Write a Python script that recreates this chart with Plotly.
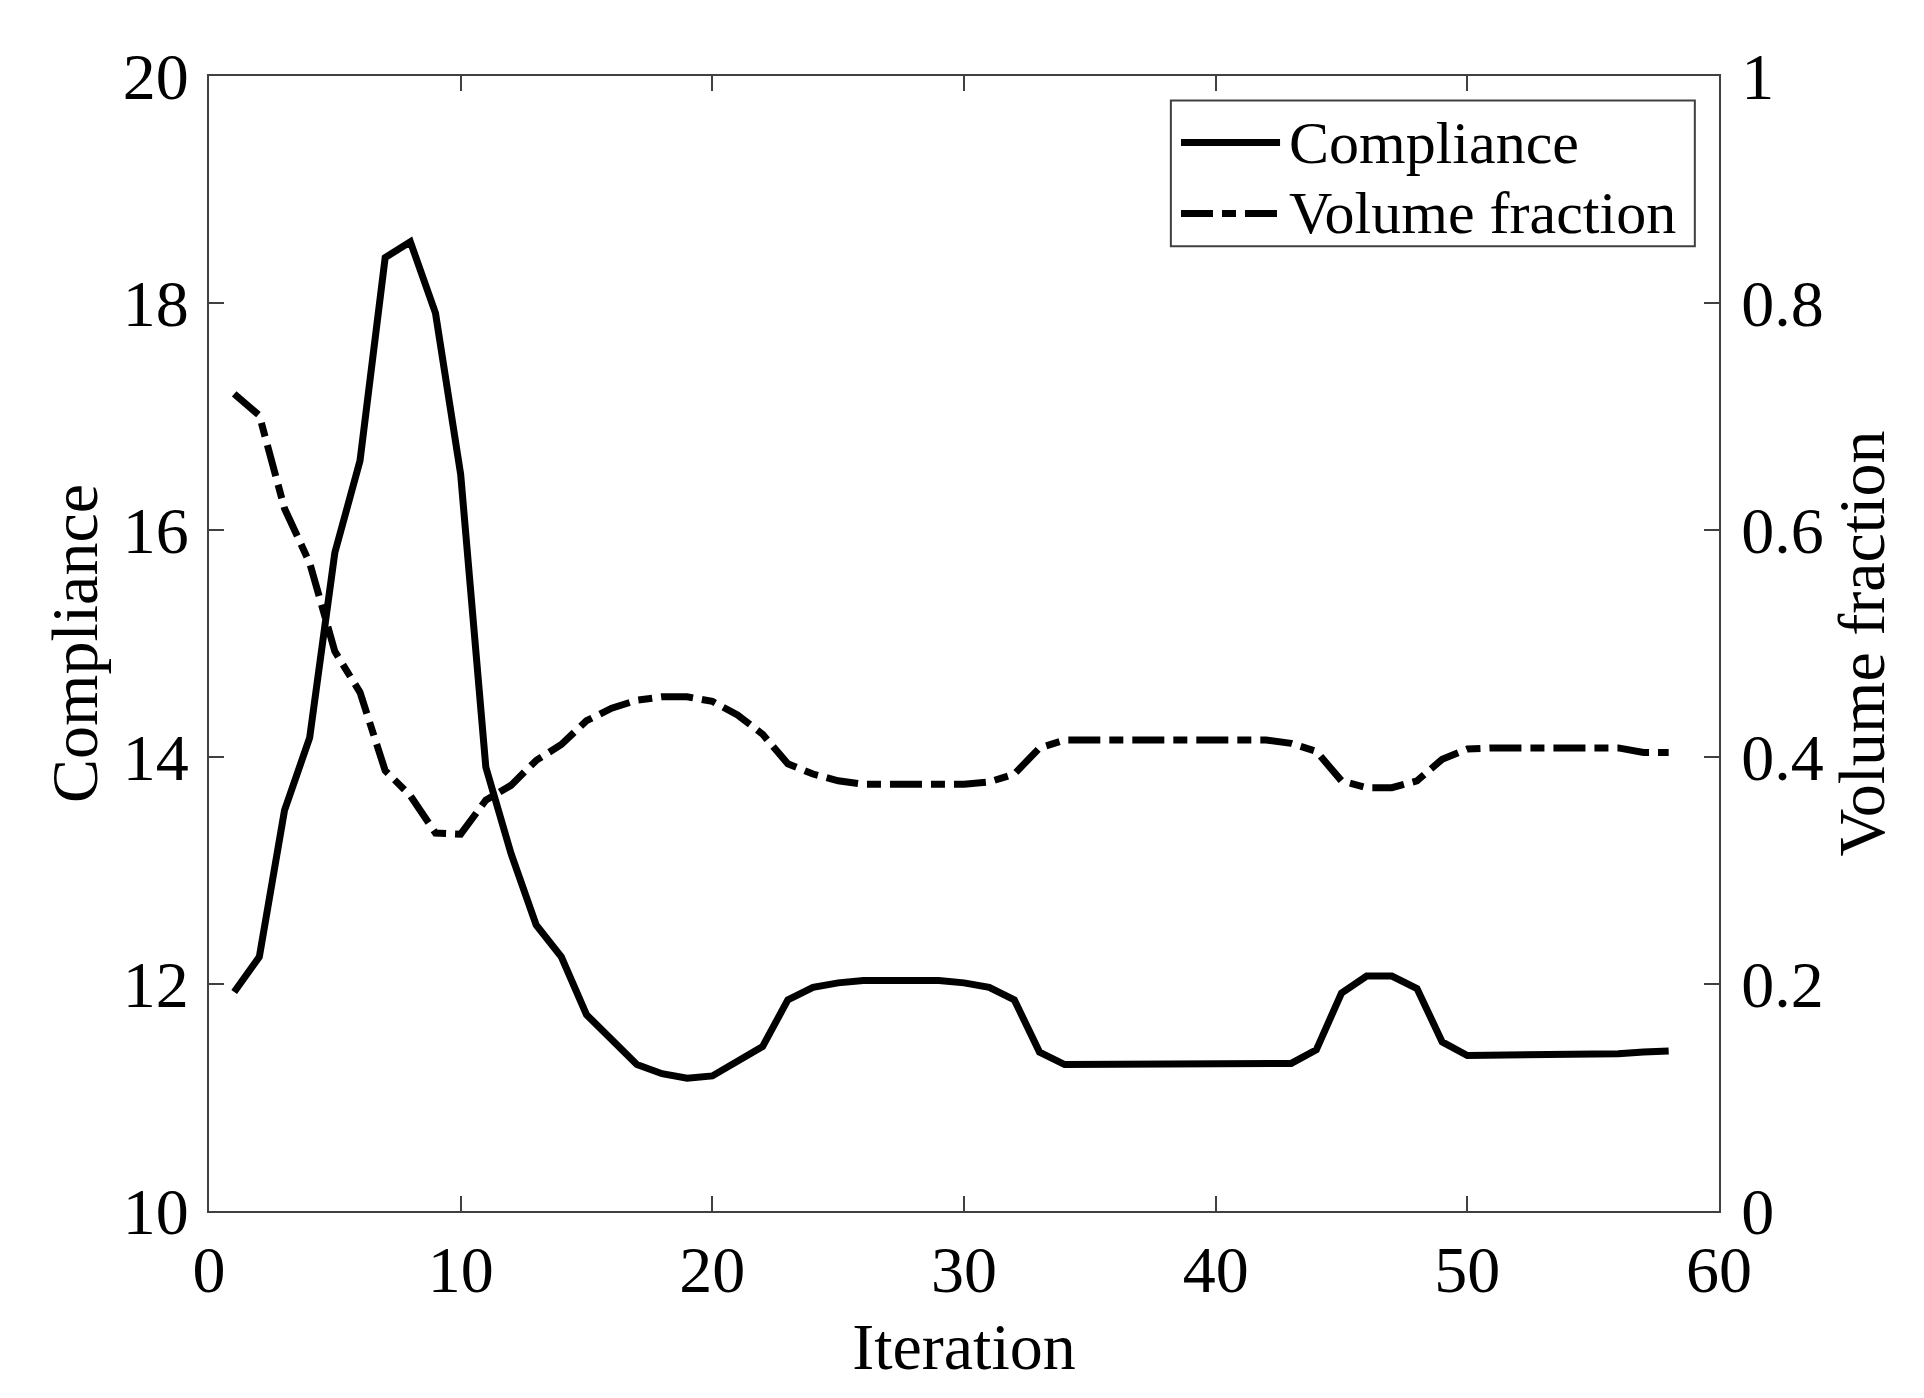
import plotly.graph_objects as go

iterations = list(range(1, 59))

compliance = [
    11.93, 12.24, 13.53, 14.17, 15.80, 16.61, 18.40, 18.54, 17.91, 16.49,
    13.91, 13.15, 12.52, 12.24, 11.73, 11.52, 11.29, 11.21, 11.17, 11.19,
    11.32, 11.45, 11.86, 11.97, 12.01, 12.03, 12.03, 12.03, 12.03, 12.01,
    11.97, 11.86, 11.40, 11.29, 11.29, 11.29, 11.29, 11.29, 11.29, 11.29,
    11.29, 11.29, 11.30, 11.42, 11.92, 12.07, 12.07, 11.96, 11.49, 11.37,
    11.37, 11.37, 11.37, 11.37, 11.37, 11.385, 11.40, 11.41,
]

volume_fraction = [
    0.720, 0.701, 0.619, 0.571, 0.493, 0.457, 0.388, 0.366, 0.333, 0.332,
    0.362, 0.375, 0.397, 0.411, 0.432, 0.443, 0.450, 0.453, 0.453, 0.449,
    0.437, 0.420, 0.394, 0.385, 0.379, 0.376, 0.376, 0.376, 0.376, 0.376,
    0.378, 0.385, 0.408, 0.415, 0.415, 0.415, 0.415, 0.415, 0.415, 0.415,
    0.415, 0.415, 0.412, 0.405, 0.379, 0.373, 0.373, 0.379, 0.398, 0.407,
    0.408, 0.408, 0.408, 0.408, 0.408, 0.408, 0.404, 0.404,
]

series_names = ["Compliance", "Volume fraction"]

x_ticks = [0, 10, 20, 30, 40, 50, 60]
y_left_ticks = [10, 12, 14, 16, 18, 20]
y_right_ticks = [0, 0.2, 0.4, 0.6, 0.8, 1]
y_right_labels = ["0", "0.2", "0.4", "0.6", "0.8", "1"]

FONT = "Liberation Serif"
AXC = "#404040"
LW = 7
DASH = "32px,9px,14px,9px"

fig = go.Figure()
fig.add_trace(go.Scatter(
    x=iterations, y=compliance, name=series_names[0], mode="lines",
    line=dict(color="black", width=LW), yaxis="y", showlegend=False,
))
fig.add_trace(go.Scatter(
    x=iterations, y=volume_fraction, name=series_names[1], mode="lines",
    line=dict(color="black", width=LW, dash=DASH), yaxis="y2", showlegend=False,
))

axis_common = dict(
    showline=True, linecolor=AXC, linewidth=2,
    ticks="inside", ticklen=15, tickwidth=2, tickcolor=AXC,
    showgrid=False, zeroline=False,
    tickfont=dict(family=FONT, size=66, color="black"),
    title_font=dict(family=FONT, size=66, color="black"),
)

# Legend box drawn in paper coordinates (MATLAB-style long line samples)
leg_x0, leg_x1 = 0.637, 0.984
leg_y0, leg_y1 = 0.850, 0.9785
row_y = [0.9414, 0.8789]
sample_x0, sample_x1 = 0.6437, 0.7093
text_x = 0.7140

shapes = [dict(type="rect", xref="paper", yref="paper",
               x0=leg_x0, x1=leg_x1, y0=leg_y0, y1=leg_y1,
               line=dict(color=AXC, width=2), fillcolor="white", layer="above")]
shapes.append(dict(type="line", xref="paper", yref="paper",
                   x0=sample_x0, x1=sample_x1, y0=row_y[0], y1=row_y[0],
                   line=dict(color="black", width=LW), layer="above"))
shapes.append(dict(type="line", xref="paper", yref="paper",
                   x0=sample_x0, x1=sample_x1, y0=row_y[1], y1=row_y[1],
                   line=dict(color="black", width=LW, dash=DASH), layer="above"))

annotations = [
    dict(xref="paper", yref="paper", x=text_x, y=row_y[i], text=series_names[i],
         showarrow=False, xanchor="left", yanchor="middle",
         font=dict(family=FONT, size=60, color="black"))
    for i in range(2)
]

fig.update_layout(
    width=1924, height=1398,
    margin=dict(l=201, r=213, t=68, b=195),
    paper_bgcolor="white", plot_bgcolor="white",
    font=dict(family=FONT, color="black"),
    xaxis=dict(
        range=[0, 60], tickvals=x_ticks, mirror="ticks",
        title=dict(text="Iteration", standoff=18),
        ticklabelstandoff=0,
        **axis_common,
    ),
    yaxis=dict(
        range=[10, 20], tickvals=y_left_ticks,
        title=dict(text="Compliance", standoff=4),
        ticklabelstandoff=5,
        **axis_common,
    ),
    yaxis2=dict(
        range=[0, 1], tickvals=y_right_ticks, ticktext=y_right_labels,
        overlaying="y", side="right",
        title=dict(text="Volume fraction", standoff=15),
        ticklabelstandoff=7,
        **axis_common,
    ),
    shapes=shapes,
    annotations=annotations,
    showlegend=False,
)

fig.write_html("out.html")
